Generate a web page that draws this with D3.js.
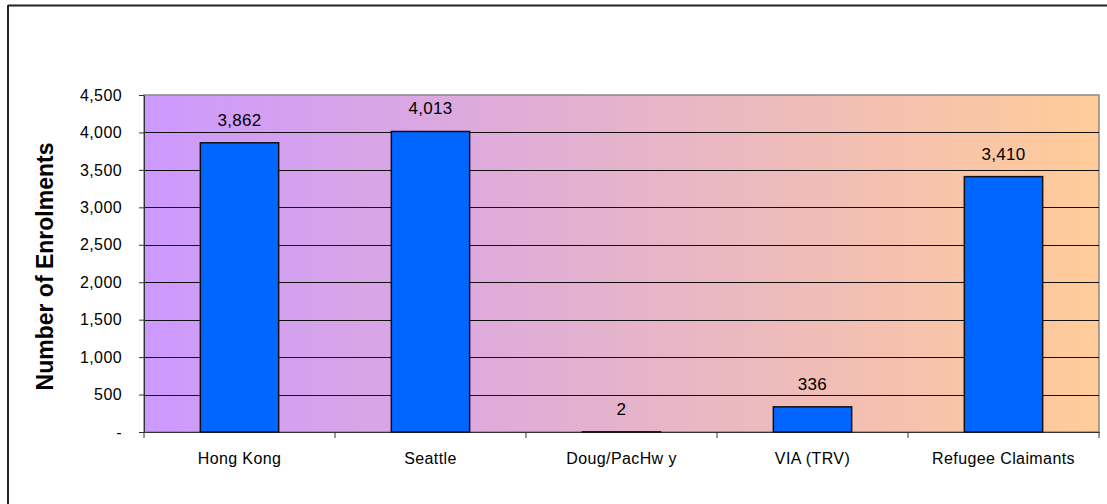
<!DOCTYPE html>
<html><head><meta charset="utf-8">
<script src="https://cdn.jsdelivr.net/npm/d3@7"></script>
<style>body{margin:0;background:#fff}svg{display:block}</style>
</head><body>
<svg id="c" width="1107" height="504"></svg>
<script>
const categories = ["Hong Kong","Seattle","Doug/PacHw y","VIA (TRV)","Refugee Claimants"];
const values = [3862, 4013, 2, 336, 3410];
const yTicks = [0,500,1000,1500,2000,2500,3000,3500,4000,4500];

const svg = d3.select("#c");
const L=144, R=1099, T=95, B=432;
const font = "'Liberation Sans', Arial, sans-serif";

// outer border (top and left visible)
svg.append("line").attr("x1",8).attr("x2",1107).attr("y1",5.5).attr("y2",5.5).attr("stroke","#222").attr("stroke-width",2);
svg.append("line").attr("x1",8).attr("x2",8).attr("y1",5).attr("y2",504).attr("stroke","#222").attr("stroke-width",2);

const defs = svg.append("defs");
const g = defs.append("linearGradient").attr("id","bg").attr("x1","0").attr("x2","1").attr("y1","0").attr("y2","0");
g.append("stop").attr("offset","0").attr("stop-color","#CC99FF");
g.append("stop").attr("offset","1").attr("stop-color","#FFCC99");

svg.append("rect").attr("x",L).attr("y",T).attr("width",R-L).attr("height",B-T).attr("fill","url(#bg)");
svg.append("rect").attr("x",L).attr("y",T).attr("width",R-L).attr("height",B-T).attr("fill","none").attr("stroke","#888").attr("stroke-width",1.5);

const x = d3.scaleBand().domain(categories).range([L,R]).paddingInner(0.59).paddingOuter(0.295);
const xb = d3.scaleBand().domain(categories).range([L,R]);
const y = d3.scaleLinear().domain([0,4500]).range([B,T]);

// gridlines
svg.append("g").selectAll("line").data(yTicks.slice(1,-1)).join("line")
  .attr("x1",L).attr("x2",R).attr("y1",d=>Math.round(y(d))+0.5).attr("y2",d=>Math.round(y(d))+0.5)
  .attr("stroke","#111").attr("stroke-width",1);

// y axis
const yAxis = d3.axisLeft(y).tickValues(yTicks).tickSize(5).tickSizeOuter(0).tickPadding(17)
  .tickFormat(d=> d===0 ? "-" : d3.format(",")(d));
const ya = svg.append("g").attr("transform",`translate(${L},0)`).call(yAxis);
ya.select(".domain").attr("stroke","#333");
ya.selectAll(".tick line").attr("stroke","#333");
ya.selectAll("text").attr("font-family",font).attr("font-size",16).attr("fill","#000").attr("letter-spacing",0.4);

// x axis
const xAxis = d3.axisBottom(xb).tickSize(0).tickPadding(0);
const xa = svg.append("g").attr("transform",`translate(0,${B})`).call(xAxis);
xa.select(".domain").attr("stroke","#333");
xa.selectAll("text").attr("font-family",font).attr("font-size",16).attr("fill","#000")
  .attr("dy",null).attr("y",32).attr("letter-spacing",0.4);
svg.append("g").selectAll("line").data(categories.concat(["_end"])).join("line")
  .attr("x1",(d,i)=> i<categories.length ? xb(d) : R).attr("x2",(d,i)=> i<categories.length ? xb(d) : R)
  .attr("y1",B).attr("y2",B+6).attr("stroke","#333");

// bars
svg.append("g").selectAll("rect").data(values).join("rect")
  .attr("x",(d,i)=>x(categories[i])).attr("width",x.bandwidth())
  .attr("y",d=>y(d)).attr("height",d=>B-y(d))
  .attr("fill","#0066FF").attr("stroke","#111").attr("stroke-width",1.5);

// value labels
svg.append("g").selectAll("text").data(values).join("text")
  .attr("x",(d,i)=>x(categories[i])+x.bandwidth()/2).attr("y",d=>y(d)-17)
  .attr("text-anchor","middle").attr("font-family",font).attr("font-size",17).attr("fill","#000")
  .attr("letter-spacing",0.3)
  .text(d=>d3.format(",")(d));

// y title
svg.append("text").attr("transform",`translate(53,${(T+B)/2+3}) rotate(-90)`)
  .attr("text-anchor","middle").attr("font-family",font).attr("font-size",23).attr("font-weight","bold")
  .text("Number of Enrolments");
</script>
</body></html>
